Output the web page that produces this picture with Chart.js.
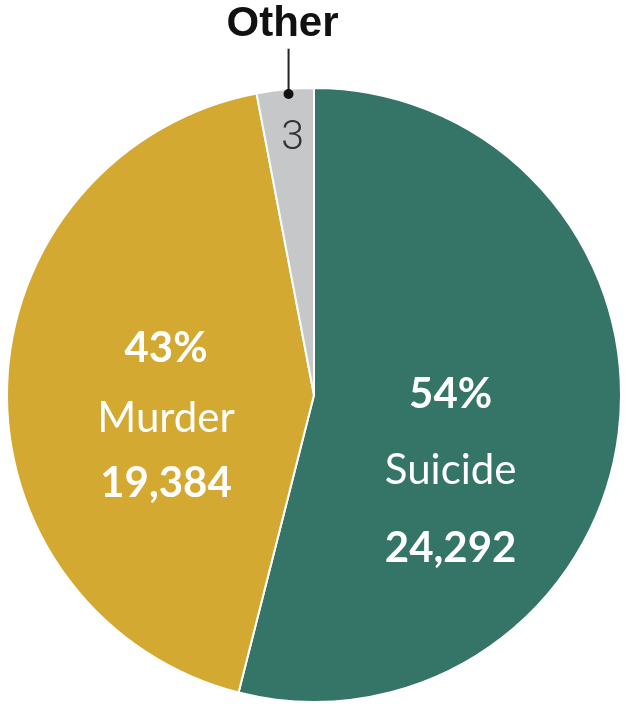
<!DOCTYPE html>
<html>
<head>
<meta charset="utf-8">
<title>Gun deaths by type</title>
<script src="https://cdn.jsdelivr.net/npm/chart.js@4.4.1/dist/chart.umd.min.js"></script>
<style>
  html, body { margin: 0; padding: 0; background: #fff; }
  #wrap { position: relative; width: 628px; height: 708px; }
</style>
</head>
<body>
<div id="wrap"><canvas id="pie"></canvas></div>
<script>
// ---------- data ----------
const categories = ['Suicide', 'Murder', 'Other'];
const deaths     = [24292, 19384, 1350];
const pctLabels  = ['54%', '43%', '3'];
const numLabels  = ['24,292', '19,384', ''];
const colors     = ['#347568', '#d4a932', '#c6c7c9'];

// label block offsets, in units of the pie radius from its centre
const blockPos = {
  Suicide: { dx: 0.445, rows: [-0.003, 0.247, 0.500] },
  Murder:  { dx: -0.482, rows: [-0.153, 0.078, 0.289] }
};

const labelPlugin = {
  id: 'sliceLabels',
  afterDatasetsDraw(chart) {
    const ctx = chart.ctx;
    const arcs = chart.getDatasetMeta(0).data;
    const cx = arcs[0].x, cy = arcs[0].y, r = arcs[0].outerRadius;
    ctx.save();
    ctx.textAlign = 'center';
    ctx.textBaseline = 'middle';
    ctx.fillStyle = '#ffffff';

    ['Suicide', 'Murder'].forEach(name => {
      const i = categories.indexOf(name);
      const p = blockPos[name];
      const x = cx + p.dx * r;
      ctx.font = 'bold 42px Lato';
      ctx.fillText(pctLabels[i], x, cy + p.rows[0] * r);
      ctx.font = '42px Lato';
      ctx.fillText(name, x, cy + p.rows[1] * r);
      ctx.font = 'bold 42px Lato';
      ctx.fillText(numLabels[i], x, cy + p.rows[2] * r);
    });

    // "Other" slice: small value inside, callout above
    const o = arcs[2];
    const mid = (o.startAngle + o.endAngle) / 2;
    const px = f => cx + Math.cos(mid) * r * f;
    const py = f => cy + Math.sin(mid) * r * f;

    ctx.fillStyle = '#333333';
    ctx.font = '300 41px Roboto';
    ctx.fillText(pctLabels[2], px(0.84) + 3, py(0.84));

    const dotX = px(0.985) + 3, dotY = py(0.985);
    ctx.strokeStyle = '#222222';
    ctx.lineWidth = 2;
    ctx.beginPath();
    ctx.moveTo(dotX, dotY);
    ctx.lineTo(dotX, cy - r * 1.128);
    ctx.stroke();
    ctx.fillStyle = '#111111';
    ctx.beginPath();
    ctx.arc(dotX, dotY, 5, 0, Math.PI * 2);
    ctx.fill();

    ctx.font = 'bold 42px "Liberation Sans", Arial, sans-serif';
    ctx.fillText(categories[2], dotX - 6, cy - r * 1.208);
    ctx.restore();
  }
};

new Chart(document.getElementById('pie'), {
  type: 'pie',
  data: {
    labels: categories,
    datasets: [{
      data: deaths,
      backgroundColor: colors,
      borderColor: '#ffffff',
      borderWidth: 2
    }]
  },
  options: {
    responsive: true, maintainAspectRatio: false, animation: false,
    layout: { padding: { top: 87, bottom: 5, left: 6, right: 6 } },
    plugins: { legend: { display: false }, tooltip: { enabled: false } }
  },
  plugins: [labelPlugin]
});
</script>
</body>
</html>
